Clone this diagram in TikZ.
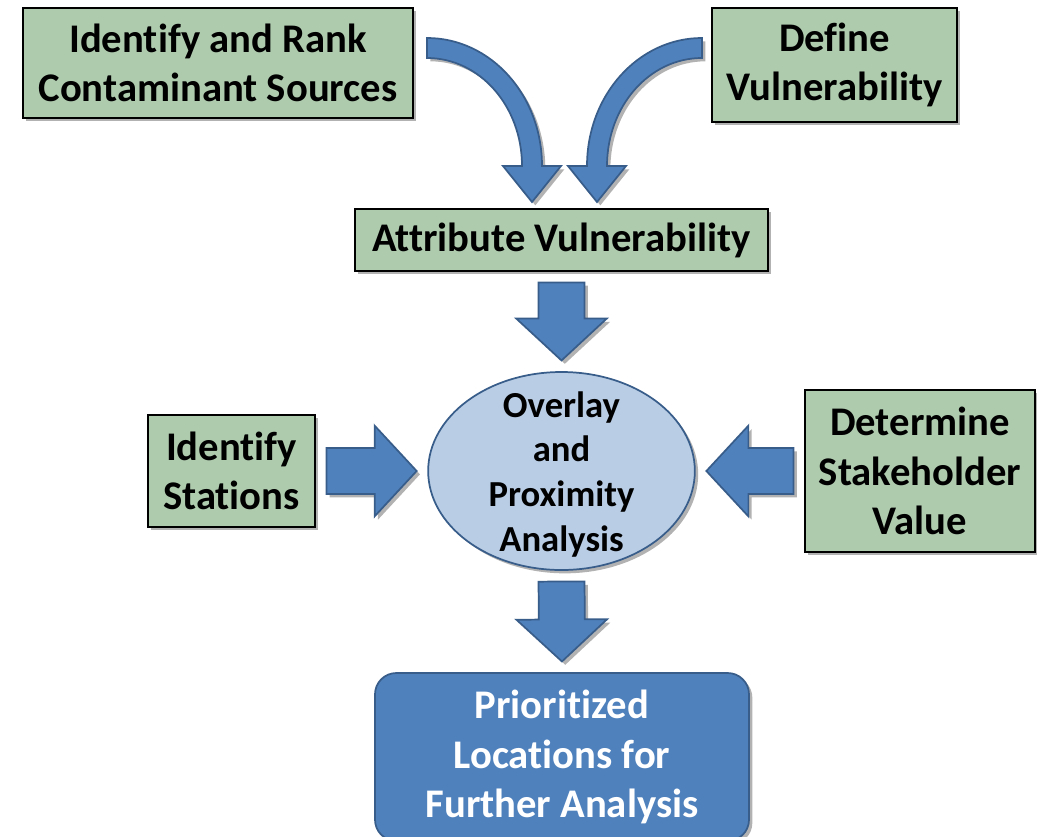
\documentclass[tikz,border=0pt]{standalone}
\usepackage{fontspec}
\setmainfont{Carlito}[Ligatures=NoCommon]
\usetikzlibrary{shapes.geometric,shadows,calc}
\definecolor{boxgreen}{RGB}{175,203,174}
\definecolor{hubblue}{RGB}{185,205,229}
\definecolor{arrblue}{RGB}{79,129,189}
\definecolor{arredge}{RGB}{56,93,138}

\begin{document}
\begin{tikzpicture}[x=0.75pt,y=-0.75pt,
  soft/.style={drop shadow={shadow xshift=2.5pt,shadow yshift=-2.5pt,opacity=0.3,fill=black}},
  task/.style={draw,line width=1.1pt,fill=boxgreen,soft,align=center,inner sep=2pt,
    font=\bfseries\fontsize{30.5}{37}\selectfont},
  hub/.style={ellipse,draw=arredge,line width=1.3pt,fill=hubblue,soft,inner sep=0pt,
    minimum width=200pt,minimum height=148.5pt},
  hubtext/.style={align=center,font=\bfseries\fontsize{27.5}{33.5}\selectfont},
  goal/.style={rounded corners=16pt,draw=arredge,line width=1.3pt,fill=arrblue,soft,text=white,
    align=center,font=\bfseries\fontsize{30.5}{37}\selectfont},
  curv/.style={draw=arredge,fill=arrblue,line width=1.3pt,soft},
  fat/.style={draw=arredge,fill=arrblue,line width=1.3pt,soft,to path={
    ($(\tikztostart)!8pt!(\tikztotarget)!17.25pt!90:(\tikztotarget)$)
    -- ($(\tikztotarget)!39.5pt!(\tikztostart)!17.25pt!90:(\tikztotarget)$)
    -- ($(\tikztotarget)!39.5pt!(\tikztostart)!34pt!90:(\tikztotarget)$)
    -- ($(\tikztotarget)!8pt!(\tikztostart)$)
    -- ($(\tikztotarget)!39.5pt!(\tikztostart)!34pt!-90:(\tikztotarget)$)
    -- ($(\tikztotarget)!39.5pt!(\tikztostart)!17.25pt!-90:(\tikztotarget)$)
    -- ($(\tikztostart)!8pt!(\tikztotarget)!17.25pt!-90:(\tikztotarget)$) -- cycle}}]
\useasboundingbox (0,0) rectangle (1037,836);
\clip (0,0) rectangle (1037,836);
\node[task,minimum width=292.5pt,minimum height=82.5pt] (src) at (218,63) {Identify and Rank\\Contaminant Sources};
\node[task,minimum width=183.75pt,minimum height=85.5pt] (def) at (834.5,65) {Define\\Vulnerability};
\node[task,minimum width=309.75pt,minimum height=46.5pt] (att) at (561.5,240) {Attribute Vulnerability};
\node[hub,label={[hubtext,yshift=-2.5pt]center:{Overlay\\and\\Proximity\\Analysis}}] (ovl) at (561.5,471) {};
\node[task,minimum width=125.25pt,minimum height=84pt] (sta) at (231.5,471) {Identify\\Stations};
\node[task,minimum width=172.5pt,minimum height=121.5pt] (stk) at (920,471) {Determine\\Stakeholder\\Value};
\node[goal,minimum width=280.5pt,minimum height=126pt] (pri) at (562,757) {Prioritized\\Locations for\\Further Analysis};
\draw[curv] (427,38) .. controls (490.5,38) and (542,95) .. (542,166) -- (561,166) -- (532,202)
  -- (503,166) -- (522,166) .. controls (522,106) and (479.5,58) .. (427,58) -- cycle;
\draw[curv] (702,38) .. controls (638.5,38) and (587,95) .. (587,166) -- (568,166) -- (597,202)
  -- (626,166) -- (607,166) .. controls (607,106) and (649.5,58) .. (702,58) -- cycle;
\path[fat] (att.south) to (ovl.north)
           (ovl.south) to (pri.north)
           (sta.east) to (ovl.west)
           (stk.west) to (ovl.east);
\end{tikzpicture}
\end{document}
